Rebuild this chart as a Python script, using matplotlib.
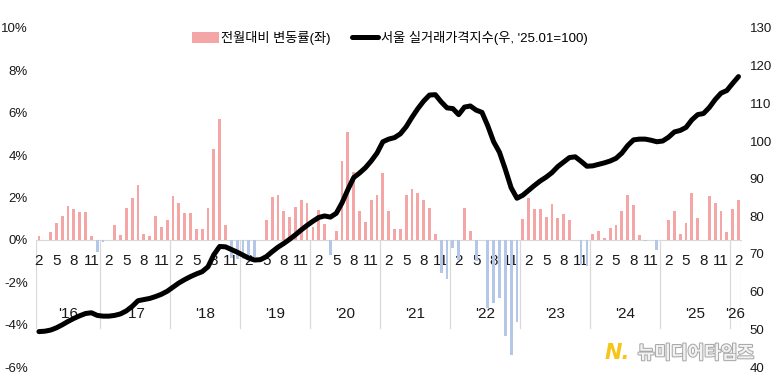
import matplotlib.pyplot as plt
import matplotlib.patheffects as pe
import numpy as np

# 좁은 글꼴 + 한글 대체
plt.rcParams['font.family'] = ['Liberation Sans Narrow', 'Liberation Sans', 'Noto Sans CJK KR', 'DejaVu Sans']

# 데이터: 2016.02 ~ 2026.02 월별
start_year, start_month = 2016, 2
change = [0.2, 0.0, 0.35, 0.82, 1.15, 1.59, 1.46, 1.3, 1.3, 0.2, -0.55,              # '16
          -0.12, 0.0, 0.72, 0.25, 1.52, 2.0, 2.58, 0.28, 0.19, 1.12, 0.63, 0.93,     # '17
          2.05, 1.72, 1.26, 1.26, 0.5, 0.53, 1.52, 4.3, 5.72, 0.69, -0.85, -0.9,     # '18
          -0.9, -0.85, -0.8, 0.0, 0.94, 2.04, 2.1, 1.38, 1.1, 1.57, 1.89, 1.73,      # '19
          0.63, 1.42, 0.75, -0.7, 0.43, 3.73, 5.1, 3.2, 1.35, 0.83, 1.86, 2.1,       # '20
          3.14, 1.35, 0.52, 0.52, 2.1, 2.4, 2.22, 1.86, 1.52, 0.27, -1.57, -1.85,    # '21
          -0.4, -0.94, 1.52, 0.43, -1.0, 0.0, -3.2, -3.0, -2.75, -4.56, -5.45, -3.88,  # '22
          0.97, 2.0, 1.46, 1.47, 1.1, 1.68, 1.01, 1.21, 0.94, 0.0, -1.2, -1.25,      # '23
          0.27, 0.43, 0.07, 0.56, 0.72, 1.34, 2.1, 1.63, 0.24, -0.06, 0.0, -0.5,     # '24
          0.0, 0.92, 1.34, 0.3, 0.82, 2.2, 1.01, 0.0, 2.06, 1.73, 1.34, 0.39,        # '25
          1.45, 1.87]                                                                 # '26
index = [49.4, 49.5, 49.8, 50.4, 51.2, 52.1, 52.9, 53.6, 54.2, 54.4, 53.7,
         53.5, 53.5, 53.7, 54.1, 54.9, 56.1, 57.6, 57.9, 58.2, 58.7, 59.3, 60.1,
         61.2, 62.3, 63.2, 64.0, 64.7, 65.3, 66.6, 69.8, 72.0, 71.9, 71.2, 70.5,
         69.7, 68.9, 68.4, 68.5, 69.3, 70.6, 71.8, 72.8, 73.9, 75.1, 76.4, 77.6,
         78.7, 79.7, 80.1, 79.8, 80.8, 83.6, 87.1, 90.3, 91.5, 92.9, 94.7, 96.8,
         99.8, 100.5, 100.9, 101.9, 103.8, 106.3, 108.6, 110.6, 112.2, 112.3, 110.4, 108.8,
         108.6, 107.0, 109.0, 109.3, 108.2, 107.6, 104.0, 99.8, 97.0, 92.5, 87.6, 84.8,
         85.6, 86.9, 88.2, 89.4, 90.4, 91.6, 93.2, 94.4, 95.6, 95.8, 94.6, 93.3,
         93.4, 93.8, 94.2, 94.7, 95.4, 96.8, 98.8, 100.3, 100.5, 100.5, 100.2, 99.8,
         100.0, 101.0, 102.4, 102.8, 103.6, 105.6, 107.0, 107.3, 108.9, 111.0, 112.7, 113.4,
         115.3, 117.1]
month_ticks = [2, 5, 8, 11]
bar_label = '전월대비 변동률(좌)'
line_label = "서울 실거래가격지수(우, '25.01=100)"

n = len(change)
x = np.arange(n)
months = [(start_month - 1 + k) % 12 + 1 for k in range(n)]
years = [start_year + (start_month - 1 + k) // 12 for k in range(n)]

fig = plt.figure(figsize=(7.75, 3.81), dpi=100)
ax = fig.add_axes([36/775, 14/381, 705.4/775, 339/381])

colors = ['#F4A6A6' if v >= 0 else '#B4C7E7' for v in change]
bars = ax.bar(x, change, width=0.48, color=colors, label=bar_label, zorder=2)

ax.set_xlim(-0.5, n - 0.5)
ax.set_ylim(-6, 10)
ax.set_yticks(range(-6, 11, 2))
ax.set_yticklabels([f'{v}%' for v in range(-6, 11, 2)])
for s in ['top', 'left', 'right']:
    ax.spines[s].set_visible(False)
ax.spines['bottom'].set_position(('data', 0))
ax.spines['bottom'].set_color('#d9d9d9')
ax.spines['bottom'].set_zorder(1)

tick_pos = [k for k in x if months[k] in month_ticks]
ax.set_xticks(tick_pos)
ax.set_xticklabels([str(months[k]) for k in tick_pos])
ax.tick_params(axis='x', length=0, pad=10, labelsize=11, colors='#1a1a1a')
ax.tick_params(axis='y', length=0, pad=6, labelsize=9.5, colors='#1a1a1a')

# 연도 구분선과 연도 라벨
bounds = [-0.5] + [k - 0.5 for k in x if months[k] == 1] + [n - 0.5]
for b in bounds:
    ax.plot([b, b], [0, -4.15], color='#d9d9d9', lw=0.9, zorder=1)
for a, b in zip(bounds[:-1], bounds[1:]):
    yr = years[int(a + 0.5)]
    ax.text((a + b) / 2, -3.5, f"'{yr % 100}", ha='center', va='center',
            fontsize=11, color='#1a1a1a')

ax2 = ax.twinx()
line, = ax2.plot(x, index, color='black', lw=3.6, solid_joinstyle='round',
                 solid_capstyle='round', label=line_label)
ax2.set_ylim(40, 130)
ax2.set_yticks(range(40, 131, 10))
ax2.tick_params(axis='y', length=0, pad=6, labelsize=9.5, colors='#1a1a1a')
for s in ax2.spines.values():
    s.set_visible(False)

fig.legend([bars, line], [bar_label, line_label], loc='center',
           bbox_to_anchor=(0.503, 0.9), ncol=2, frameon=False, fontsize=9.5,
           handlelength=2.0, handleheight=1.0, handletextpad=0.2, columnspacing=1.6)

# 워터마크
fig.text(0.797, 0.073, 'N.', fontsize=15, fontweight='bold', style='italic',
         color='#F5C518', family='DejaVu Sans', ha='center', va='center')
fig.text(0.898, 0.073, '뉴미디어타임즈', fontsize=13, fontweight='bold',
         color='#f2f2f2', family='Noto Sans CJK KR', ha='center', va='center',
         path_effects=[pe.withStroke(linewidth=1.5, foreground='#a8a8a8')])

fig.savefig('out.png', dpi=100)
